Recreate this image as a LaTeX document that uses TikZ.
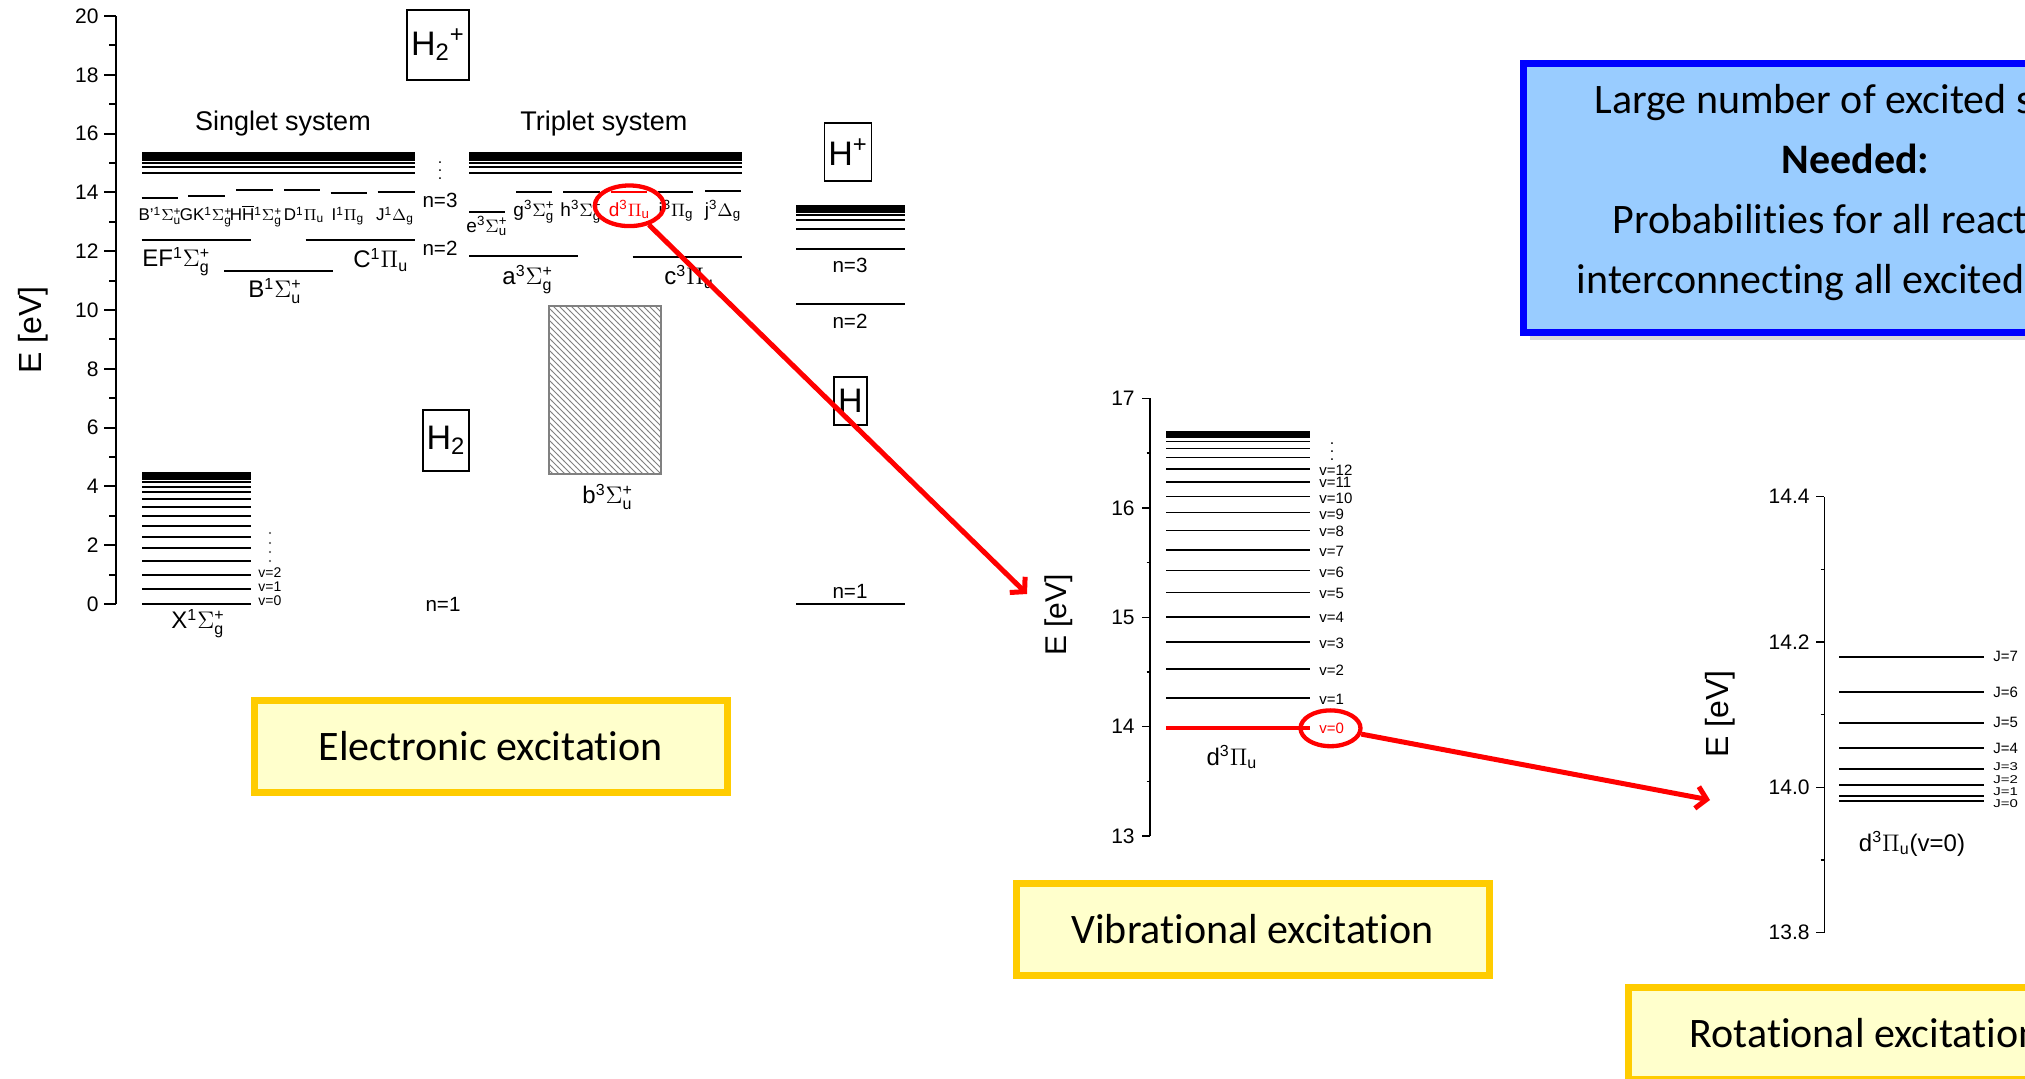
\documentclass[tikz,border=0pt]{standalone}
\usepackage{fontspec}
\usepackage{amsmath}
\setmainfont{Liberation Sans}
\newfontfamily\calib[Ligatures=NoCommon]{Carlito}
\usetikzlibrary{patterns,shapes.geometric,arrows.meta,shadows}
\definecolor{boxblue}{HTML}{99CCFF}
\definecolor{edgeblue}{HTML}{0000FF}
\definecolor{boxyellow}{HTML}{FFFFCC}
\definecolor{edgeyellow}{HTML}{FFCC00}
\definecolor{hired}{HTML}{FF0000}
\newcommand\fs[1]{\fontsize{#1}{#1}\selectfont}
\newcommand\Sg[2]{$\Sigma^{\text{#1}}_{\text{#2}}$}
\newcommand\Pg[1]{$\Pi_{\text{#1}}$}
\newcommand\Dg[1]{$\Delta_{\text{#1}}$}
\begin{document}
\begin{tikzpicture}[x=0.5pt,y=-0.5pt,
  lvl/.style={line width=1pt},
  thinlvl/.style={line width=0.8pt},
  axl/.style={line width=1pt},
  axs/.style={line width=0.75pt},
  ticklab/.style={anchor=east,inner sep=0pt,font=\fs{10.5}},
  ylab/.style={rotate=90,inner sep=0pt,font=\fs{16}},
  syslab/.style={inner sep=0pt,font=\fs{13.5}},
  nlab/.style={inner sep=0pt,font=\fs{10.3}},
  smst/.style={anchor=base,inner sep=0pt,font=\fs{8.5}},
  mdst/.style={anchor=base,inner sep=0pt,font=\fs{9.5}},
  bgst/.style={anchor=base west,inner sep=0pt,font=\fs{12}},
  vlab/.style={anchor=west,inner sep=0pt,font=\fs{7.5}},
  molbox/.style={draw,line width=0.6pt,inner sep=0pt,font=\fs{17}},
  redell/.style={draw=hired,ellipse,line width=2.15pt,inner sep=0pt},
  redarr/.style={draw=hired,line width=2.5pt,-{Straight Barb[length=5pt,width=11pt]}},
  ybox/.style={draw=edgeyellow,fill=boxyellow,line width=3.5pt,inner sep=0pt,minimum width=236.5pt,minimum height=46pt,font=\calib\fs{21}}
]
\useasboundingbox (0,0) rectangle (2025,1079);
\clip (0,0) rectangle (2025,1079);
\fill[white] (0,0) rectangle (2025,1079);

% ---------- left axis ----------
\draw[axl] (116,604) -- (116,16);
\foreach \e in {0,2,...,20}{
  \draw[axl] (104,{604-29.4*\e}) -- (116,{604-29.4*\e});
  \node[ticklab] (la\e) at (99,{604-29.4*\e}) {\e};
}
\foreach \e in {1,3,...,19} \draw[axl] (109,{604-29.4*\e}) -- (116,{604-29.4*\e});
\node[ylab] (ely) at (33,330) {E [eV]};

\node[syslab] (sing) at (283,124) {Singlet system};
\node[syslab] (trip) at (604,124) {Triplet system};

% ---------- Rydberg bands ----------
\foreach \y in {153,155,157,159,160.5,163.3,167.2,172.6}{
  \draw[lvl] (142,\y) -- (415,\y);
  \draw[lvl] (469,\y) -- (742,\y);
}
\node[inner sep=0pt,font=\fs{8}] (dts) at (440,165) {$\vdots$};

% ---------- singlet n=3 ----------
\draw[lvl] (141.7,198.3) -- (178.3,198.3);
\draw[lvl] (188,195.7) -- (225,195.7);
\draw[lvl] (236,190) -- (272.7,190);
\draw[lvl] (284,190) -- (320,190);
\draw[lvl] (330.7,192.7) -- (366.7,192.7);
\draw[lvl] (377.7,191.7) -- (415,191.7);
\node[smst] (sBp) at (160,220.7) {B'\textsuperscript{1}\Sg{+}{u}};
\node[smst] (sGK) at (206,220.7) {GK\textsuperscript{1}\Sg{+}{g}};
\node[smst] (sHH) at (256,220.7) {H$\overline{\text{H}}$\textsuperscript{1}\Sg{+}{g}};
\node[smst] (sD) at (304,220.7) {D\textsuperscript{1}\Pg{u}};
\node[smst] (sI) at (348,220.7) {I\textsuperscript{1}\Pg{g}};
\node[smst] (sJ) at (395,220.7) {J\textsuperscript{1}\Dg{g}};

% ---------- singlet n=2 ----------
\draw[lvl] (141.7,240) -- (250.7,240);
\draw[lvl] (305.7,240) -- (415,240);
\draw[lvl] (224,271) -- (332.7,271);
\node[bgst] (sEF) at (142,267) {EF\textsuperscript{1}\Sg{+}{g}};
\node[bgst] (sC) at (353,268) {C\textsuperscript{1}\Pg{u}};
\node[bgst] (sB) at (248,298) {B\textsuperscript{1}\Sg{+}{u}};
\node[nlab] (n3s) at (440,200) {n=3};
\node[nlab] (n2s) at (440,248) {n=2};

% ---------- triplet n=3 ----------
\draw[lvl] (469,211.7) -- (505,211.7);
\draw[lvl] (516,192.3) -- (551.7,192.3);
\draw[lvl] (563,192.3) -- (600,192.3);
\draw[line width=1pt,draw=hired] (611,192.3) -- (646.7,192.3);
\draw[lvl] (657.7,192.3) -- (693.3,192.3);
\draw[lvl] (705,191) -- (740.7,191);
\node[mdst] (te) at (487,232.7) {e\textsuperscript{3}\Sg{+}{u}};
\node[mdst] (tg) at (534,217) {g\textsuperscript{3}\Sg{+}{g}};
\node[mdst] (th) at (581,217) {h\textsuperscript{3}\Sg{+}{g}};
\node[mdst,text=hired] (td) at (629.5,217) {d\textsuperscript{3}\Pg{u}};
\node[mdst] (ti) at (676,217) {i\textsuperscript{3}\Pg{g}};
\node[mdst] (tj) at (723,217) {j\textsuperscript{3}\Dg{g}};

% ---------- triplet n=2 ----------
\draw[lvl] (469,255.7) -- (577.7,255.7);
\draw[lvl] (632.7,256.7) -- (741.7,256.7);
\node[bgst] (ta) at (502,285) {a\textsuperscript{3}\Sg{+}{g}};
\node[bgst] (tc) at (664,285) {c\textsuperscript{3}\Pg{u}};

% ---------- b state continuum ----------
\draw[gray,line width=1pt,pattern=north west lines,pattern color=gray] (549.3,306) rectangle (660.7,474);
\node[bgst] (tb) at (582,504) {b\textsuperscript{3}\Sg{+}{u}};

% ---------- X ground state ----------
\foreach \e in {0,0.516,1.003,1.461,1.888,2.285,2.652,2.987,3.290,3.560,3.795,3.993,4.150,4.264,4.331,4.38,4.43,4.47}
  \draw[lvl] (142,{604-29.4*\e}) -- (251,{604-29.4*\e});
\node[vlab,font=\fs{7}] (xv0) at (258,601) {v=0};
\node[vlab,font=\fs{7}] (xv1) at (258,587) {v=1};
\node[vlab,font=\fs{7}] (xv2) at (258,573) {v=2};
\foreach \y in {533,543,552,561} \fill[black!70] (270,\y) circle (0.55pt);
\node[anchor=base,inner sep=0pt,font=\fs{12}] (sX) at (198,629) {X\textsuperscript{1}\Sg{+}{g}};
\node[nlab] (n1m) at (443,604) {n=1};

% ---------- molecule boxes ----------
\node[molbox,minimum width=31pt,minimum height=35pt] (h2p) at (438,45) {H$_{\text{2}}{}^{\text{+}}$};
\node[molbox,minimum width=23pt,minimum height=30.5pt] (h2) at (446,440.5) {H$_{\text{2}}$};
\node[molbox,minimum width=23.3pt,minimum height=29pt] (hp) at (848,152) {H\textsuperscript{+}};
\node[molbox,minimum width=16.5pt,minimum height=24pt] (hat) at (850.5,401) {H};

% ---------- H atom levels ----------
\foreach \n in {1,...,16}
  \draw[lvl] (796,{604-399.84*(1-1/(\n*\n))}) -- (905,{604-399.84*(1-1/(\n*\n))});
\node[nlab] (hn3) at (850,265) {n=3};
\node[nlab] (hn2) at (850,321.7) {n=2};
\node[nlab] (hn1) at (850,591.7) {n=1};

% ---------- vibrational plot ----------
\draw[axs] (1150,836.1) -- (1150,398.5);
\foreach \e in {13,...,17}{
  \draw[axs] (1142,{726.7-109.4*(\e-14)}) -- (1150,{726.7-109.4*(\e-14)});
  \node[ticklab] (lv\e) at (1135,{726.7-109.4*(\e-14)}) {\e};
}
\foreach \e in {13.5,14.5,15.5,16.5} \draw[axs] (1146.5,{726.7-109.4*(\e-14)}) -- (1150,{726.7-109.4*(\e-14)});
\node[ylab,font=\fs{15}] (elv) at (1059,615) {E [eV]};
\foreach \y in {698.3,669.3,642.3,617.3,592.7,570.7,550,530.7,512.7,496.7,482,469,457.7,448.7,441.7,437.3,435,433.3,432.3}
  \draw[thinlvl] (1166,\y) -- (1310,\y);
\draw[draw=hired,line width=2pt] (1166,728.3) -- (1310,728.3);
\node[vlab,text=hired] (vv0) at (1319,728.3) {v=0};
\foreach \v/\y in {1/699,2/670,3/643.3,4/617.7,5/593.3,6/572.3,7/551,8/531.7,9/514,10/498.3,11/482.7,12/470}
  \node[vlab] (vv\v) at (1319,\y) {v=\v};
\node[inner sep=0pt,font=\fs{8}] (dtv) at (1332,446) {$\vdots$};
\node[anchor=base,inner sep=0pt,font=\fs{12}] (vd) at (1232,765) {d\textsuperscript{3}\Pg{u}};

% ---------- rotational plot ----------
\draw[axs] (1824.3,932.6) -- (1824.3,496.7);
\foreach \e/\t in {13.8/13.8,14.0/14.0,14.2/14.2,14.4/14.4}{
  \draw[axs] (1816,{787.3-726.5*(\e-14)}) -- (1824.3,{787.3-726.5*(\e-14)});
  \node[ticklab] (lr\t) at (1810,{787.3-726.5*(\e-14)}) {\t};
}
\foreach \e in {13.9,14.1,14.3} \draw[axs] (1820.6,{787.3-726.5*(\e-14)}) -- (1824.3,{787.3-726.5*(\e-14)});
\node[ylab] (elr) at (1720,714) {E [eV]};
\foreach \y in {656.7,692,722.7,748.3,769.3,785,795.7,801.3}
  \draw[lvl] (1839,\y) -- (1984,\y);
\foreach \j/\y in {7/656.7,6/692,5/722.7,4/748.3}
  \node[vlab] (jl\j) at (1993,\y) {J=\j};
\foreach \j/\y in {3/767,2/779.5,1/791.5,0/803.5}
  \node[vlab] (jl\j) at (1993,\y) {\scalebox{1}[0.75]{J=\j}};
\node[anchor=base,inner sep=0pt,font=\fs{12}] (rd) at (1912,851) {d\textsuperscript{3}\Pg{u}(v=0)};

% ---------- highlight ellipses and arrows ----------
\node[redell,minimum width=34.6pt,minimum height=20.3pt] (e1) at (629.4,205.8) {};
\node[redell,minimum width=30pt,minimum height=17.9pt] (e2) at (1330.5,728.3) {};
\coordinate (t1) at (1027,594);
\coordinate (t2) at (1710,800);
\draw[redarr] (e1) -- (t1);
\draw[redarr] (e2) -- (t2);

% ---------- caption boxes ----------
\node[ybox] (eebox) at (490.7,746.5) {Electronic excitation};
\node[ybox] (vebox) at (1252.7,929.3) {Vibrational excitation};
\node[ybox] (rebox) at (1865,1033.5) {Rotational excitation};

\node[draw=edgeblue,fill=boxblue,line width=3.5pt,minimum width=332pt,minimum height=134.35pt,inner sep=0pt,
      drop shadow={shadow xshift=3pt,shadow yshift=-4pt,opacity=0.3}] (needbox) at (1855.5,197.85) {};
\node[inner sep=0pt,align=center,font=\calib\fontsize{21}{30}\selectfont] (needtxt) at (1855.5,193)
  {Large number of excited states\\\textbf{Needed:}\\Probabilities for all reactions\\interconnecting all excited states};
\end{tikzpicture}
\end{document}
